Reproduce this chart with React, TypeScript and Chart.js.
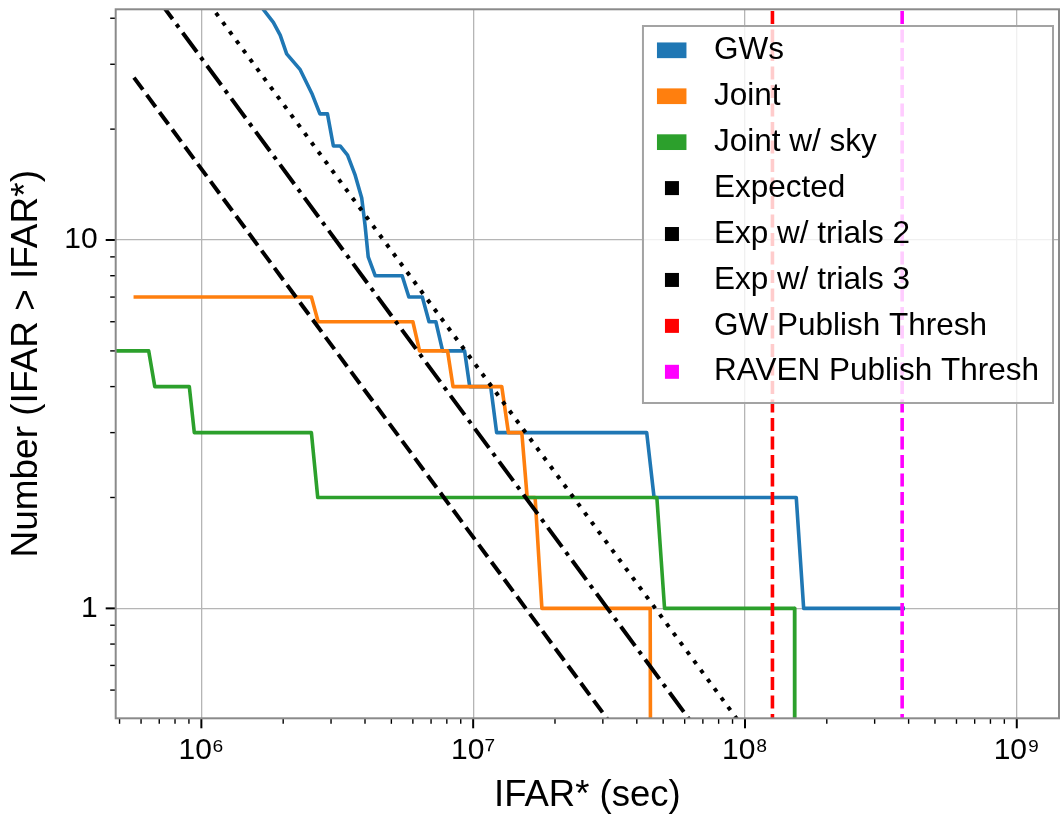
import { useEffect, useRef } from "react";
import { Chart, registerables } from "chart.js";

Chart.register(...registerables);

const FONT = "'Liberation Sans', Arial, Helvetica, sans-serif";

// ---- series (IFAR* in seconds, cumulative number) ----
const gwX = [1.62e6, 1.84e6, 1.95e6, 2.06e6, 2.31e6, 2.55e6, 2.73e6, 2.91e6, 3.06e6, 3.24e6, 3.45e6, 3.68e6, 3.89e6, 4.0e6, 4.11e6, 4.36e6, 5.48e6, 5.8e6, 6.5e6, 6.88e6, 7.29e6, 7.72e6, 9.3e6, 9.71e6, 1.16e7, 1.22e7, 4.35e7, 4.63e7, 1.544e8, 1.644e8, 3.88e8];
const gwY = [44, 39, 36, 32, 29, 25, 22, 22, 18, 18, 17, 15, 13, 11, 9, 8, 8, 7, 7, 6, 6, 5, 5, 4, 4, 3, 3, 2, 2, 1, 1];

const jointX = [5.63e5, 2.54e6, 2.69e6, 6.0e6, 6.35e6, 8.05e6, 8.43e6, 1.274e7, 1.348e7, 1.51e7, 1.58e7, 1.69e7, 1.79e7, 4.48e7, 4.54e7];
const jointY = [7, 7, 6, 6, 5, 5, 4, 4, 3, 3, 2, 2, 1, 1, 0.01];

const skyX = [3.0e5, 6.4e5, 6.74e5, 9.03e5, 9.42e5, 2.54e6, 2.68e6, 4.74e7, 5.06e7, 1.522e8, 1.525e8];
const skyY = [5, 5, 4, 4, 3, 3, 2, 2, 1, 1, 0.01];

const expX = [5.65e5, 3.47e7];
const expY = [27.6, 0.45];
const exp2X = [5.65e5, 6.93e7];
const exp2Y = [55.2, 0.45];
const exp3X = [5.65e5, 1.04e8];
const exp3Y = [82.8, 0.45];

const gwThreshX = [1.262e8, 1.262e8];
const ravenThreshX = [3.787e8, 3.787e8];
const threshY = [0.3, 60];

// ---- axes ----
const xMin = 4.84e5;
const xMax = 1.43e9;
const yMin = 0.503;
const yMax = 42.3;

const xMajorTicks = [1e6, 1e7, 1e8, 1e9];
const xMajorLabels = ["10\u2076", "10\u2077", "10\u2078", "10\u2079"];
const xMinorTicks = [5e5, 6e5, 7e5, 8e5, 9e5, 2e6, 3e6, 4e6, 5e6, 6e6, 7e6, 8e6, 9e6, 2e7, 3e7, 4e7, 5e7, 6e7, 7e7, 8e7, 9e7, 2e8, 3e8, 4e8, 5e8, 6e8, 7e8, 8e8, 9e8];
const yMajorTicks = [1, 10];
const yMajorLabels = ["1", "10"];
const yMinorTicks = [0.6, 0.7, 0.8, 0.9, 2, 3, 4, 5, 6, 7, 8, 9, 20, 30, 40];

const legendKinds = ["patch", "patch", "patch", "square", "square", "square", "square", "square"];

function zip(xs: number[], ys: number[]) {
  return xs.map((x, i) => ({ x, y: ys[i] }));
}

function buildTicks(majors: number[], minors: number[]) {
  return [...majors, ...minors]
    .sort((a, b) => a - b)
    .map((v) => ({ value: v, major: majors.includes(v) }));
}

const framePlugin = {
  id: "frameTicksLegend",
  afterDatasetsDraw(chart: any) {
    const ctx = chart.ctx as CanvasRenderingContext2D;
    const ca = chart.chartArea;
    ctx.save();
    // tick marks
    ctx.strokeStyle = "#000";
    const xs = chart.scales.x;
    for (const t of xs.ticks) {
      const px = xs.getPixelForValue(t.value);
      if (px < ca.left - 0.5 || px > ca.right + 0.5) continue;
      ctx.lineWidth = t.major ? 2 : 1.4;
      ctx.beginPath();
      ctx.moveTo(px, ca.bottom);
      ctx.lineTo(px, ca.bottom + (t.major ? 10 : 5.5));
      ctx.stroke();
    }
    const ys = chart.scales.y;
    for (const t of ys.ticks) {
      const py = ys.getPixelForValue(t.value);
      if (py < ca.top - 0.5 || py > ca.bottom + 0.5) continue;
      ctx.lineWidth = t.major ? 2 : 1.4;
      ctx.beginPath();
      ctx.moveTo(ca.left, py);
      ctx.lineTo(ca.left - (t.major ? 10 : 5.5), py);
      ctx.stroke();
    }
    // frame
    ctx.strokeStyle = "#8a8a8a";
    ctx.lineWidth = 2;
    ctx.strokeRect(ca.left, ca.top, ca.right - ca.left, ca.bottom - ca.top);

    // legend
    const sets = chart.data.datasets;
    ctx.font = `31.5px ${FONT}`;
    let maxW = 0;
    for (const d of sets) maxW = Math.max(maxW, ctx.measureText(d.label).width);
    const boxRight = ca.right - 6;
    const boxTop = ca.top + 16.7;
    const textOff = 71;
    const boxW = textOff + maxW + 14;
    const rowH = 45.93;
    const boxH = 377;
    const boxLeft = boxRight - boxW;
    ctx.fillStyle = "rgba(255,255,255,0.8)";
    ctx.fillRect(boxLeft, boxTop, boxW, boxH);
    ctx.strokeStyle = "#a3a3a3";
    ctx.lineWidth = 2;
    ctx.strokeRect(boxLeft, boxTop, boxW, boxH);
    ctx.textBaseline = "middle";
    ctx.textAlign = "left";
    sets.forEach((d: any, i: number) => {
      const cy = boxTop + 24.3 + i * rowH;
      ctx.fillStyle = d.borderColor;
      if (legendKinds[i] === "patch") {
        ctx.fillRect(boxLeft + 14, cy - 7.85, 29.5, 15.7);
      } else {
        ctx.fillRect(boxLeft + 22, cy - 7, 14, 14);
      }
      ctx.fillStyle = "#000";
      ctx.fillText(d.label, boxLeft + textOff, cy);
    });
    ctx.restore();
  },
};

export default function App() {
  const ref = useRef<HTMLCanvasElement | null>(null);

  useEffect(() => {
    if (!ref.current) return;
    const common = { pointRadius: 0, pointHoverRadius: 0, tension: 0, fill: false, clip: 0, borderJoinStyle: "round" };
    const black = "#000000";
    const datasets: any[] = [
      { label: "GWs", data: zip(gwX, gwY), borderColor: "#1f77b4", borderWidth: 3.6, ...common },
      { label: "Joint", data: zip(jointX, jointY), borderColor: "#ff7f0e", borderWidth: 3.6, ...common },
      { label: "Joint w/ sky", data: zip(skyX, skyY), borderColor: "#2ca02c", borderWidth: 3.6, ...common },
      { label: "Expected", data: zip(expX, expY), borderColor: black, borderWidth: 4, borderDash: [15, 6.5], ...common },
      { label: "Exp w/ trials 2", data: zip(exp2X, exp2Y), borderColor: black, borderWidth: 4, borderDash: [24, 6.5, 4, 6.5], ...common },
      { label: "Exp w/ trials 3", data: zip(exp3X, exp3Y), borderColor: black, borderWidth: 4, borderDash: [4, 7.5], ...common },
      { label: "GW Publish Thresh", data: zip(gwThreshX, threshY), borderColor: "#ff0000", borderWidth: 3.6, borderDash: [13, 5.5], ...common },
      { label: "RAVEN Publish Thresh", data: zip(ravenThreshX, threshY), borderColor: "#ff00ff", borderWidth: 3.6, borderDash: [13, 5.5], ...common },
    ];
    datasets.forEach((d, i) => (d.order = datasets.length - i));

    const gridColor = (c: any) => (c.tick && c.tick.major ? "#b5b5b5" : "rgba(0,0,0,0)");

    const chart = new Chart(ref.current, {
      type: "line",
      data: { datasets },
      options: {
        animation: false,
        responsive: false,
        devicePixelRatio: 1,
        parsing: true,
        events: [],
        layout: { padding: { top: 9.3, right: 1, left: 0, bottom: 0 } },
        plugins: { legend: { display: false }, tooltip: { enabled: false } },
        scales: {
          x: {
            type: "logarithmic",
            min: xMin,
            max: xMax,
            afterBuildTicks: (s: any) => {
              s.ticks = buildTicks(xMajorTicks, xMinorTicks);
            },
            afterFit: (s: any) => {
              s.height = 99.7;
              s.paddingLeft = 0;
              s.paddingRight = 0;
            },
            grid: { color: gridColor, lineWidth: 1.3, drawTicks: false },
            border: { display: false },
            ticks: {
              autoSkip: false,
              maxRotation: 0,
              minRotation: 0,
              padding: 14,
              color: "#000",
              font: { family: FONT, size: 30 },
              callback: (v: any) => {
                const i = xMajorTicks.indexOf(Number(v));
                return i >= 0 ? xMajorLabels[i] : "";
              },
            },
            title: {
              display: true,
              text: "IFAR* (sec)",
              color: "#000",
              font: { family: FONT, size: 36.5 },
              padding: { top: 0, bottom: 0 },
            },
          },
          y: {
            type: "logarithmic",
            min: yMin,
            max: yMax,
            afterBuildTicks: (s: any) => {
              s.ticks = buildTicks(yMajorTicks, yMinorTicks);
            },
            afterFit: (s: any) => {
              s.width = 115.7;
              s.paddingTop = 0;
              s.paddingBottom = 0;
            },
            grid: { color: gridColor, lineWidth: 1.3, drawTicks: false },
            border: { display: false },
            ticks: {
              autoSkip: false,
              padding: 18,
              color: "#000",
              font: { family: FONT, size: 30 },
              callback: (v: any) => {
                const i = yMajorTicks.indexOf(Number(v));
                return i >= 0 ? yMajorLabels[i] : "";
              },
            },
            title: {
              display: true,
              text: "Number (IFAR > IFAR*)",
              color: "#000",
              font: { family: FONT, size: 37 },
              padding: { top: 5, bottom: 0 },
            },
          },
        },
      },
      plugins: [framePlugin],
    });
    return () => chart.destroy();
  }, []);

  return (
    <div style={{ position: "fixed", left: 0, top: 0, width: 1060, height: 818, background: "#fff" }}>
      <canvas ref={ref} width={1060} height={818} style={{ width: 1060, height: 818, display: "block" }} />
    </div>
  );
}
